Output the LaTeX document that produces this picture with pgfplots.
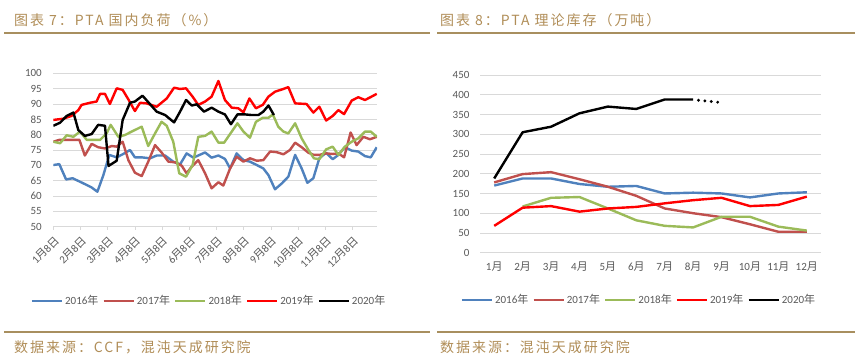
\documentclass[border=0pt]{standalone}
\usepackage{fontspec}
\setmainfont{Carlito}
\newfontfamily\cjk{Noto Sans CJK SC}
\newfontfamily\cjktitle[LetterSpace=14]{Noto Sans CJK SC}
\usepackage{pgfplots}
\pgfplotsset{compat=1.18}
\definecolor{c16}{HTML}{4F81BD}
\definecolor{c17}{HTML}{C0504D}
\definecolor{c18}{HTML}{9BBB59}
\definecolor{c19}{HTML}{FF0000}
\definecolor{c20}{HTML}{000000}
\definecolor{gridc}{HTML}{D9D9D9}
\definecolor{tickc}{HTML}{595959}
\definecolor{gold}{HTML}{B08D57}
\definecolor{goldline}{HTML}{A88F5F}
\pgfplotsset{
  mybase/.style={
    scale only axis,
    axis line style={draw=none},
    ymajorgrids, grid style={gridc, line width=0.8pt},
    tick label style={font=\fontsize{11}{12}\selectfont, text=tickc},
    /pgf/number format/assume math mode=true,
    ytick style={draw=none},
    legend style={draw=none, fill=none, font=\fontsize{11}{12}\selectfont, text=tickc,
      legend columns=5, /tikz/every even column/.append style={column sep=2pt}, inner sep=0pt},
    legend image code/.code={\draw[#1] (0pt,0pt) -- (30pt,0pt);},
    every axis plot/.append style={line width=2.4pt, line join=round},
  }
}
\begin{document}
\begin{tikzpicture}
\path[use as bounding box] (0,0) rectangle (859pt,362pt);
% headers
\node[anchor=base west, font=\cjktitle\fontsize{14}{16}\selectfont, text=gold, inner sep=0pt] at (14pt,336pt) {图表 7：PTA 国内负荷（\%）};
\node[anchor=base west, font=\cjktitle\fontsize{14}{16}\selectfont, text=gold, inner sep=0pt] at (440pt,336pt) {图表 8：PTA 理论库存（万吨）};
\draw[goldline, line width=1.2pt] (4pt,329pt) -- (430pt,329pt);
\draw[goldline, line width=1.2pt] (437pt,329pt) -- (855pt,329pt);
\draw[goldline, line width=1.2pt] (4pt,30pt) -- (430pt,30pt);
\draw[goldline, line width=1.2pt] (437pt,30pt) -- (855pt,30pt);
\node[anchor=base west, font=\cjktitle\fontsize{14}{16}\selectfont, text=gold, inner sep=0pt] at (14pt,10pt) {数据来源：CCF，混沌天成研究院};
\node[anchor=base west, font=\cjktitle\fontsize{14}{16}\selectfont, text=gold, inner sep=0pt] at (440pt,10pt) {数据来源：混沌天成研究院};

% left chart
\begin{axis}[mybase, at={(53.3pt,135.3pt)}, anchor=south west,
  width=323.7pt, height=153.4pt,
  xmin=0, xmax=11.9, ymin=50, ymax=100,
  ytick={50,55,...,100},
  yticklabel style={xshift=-5pt},
  xtick={0,...,11},
  xticklabels={1{\cjk 月}8{\cjk 日},2{\cjk 月}8{\cjk 日},3{\cjk 月}8{\cjk 日},4{\cjk 月}8{\cjk 日},5{\cjk 月}8{\cjk 日},6{\cjk 月}8{\cjk 日},7{\cjk 月}8{\cjk 日},8{\cjk 月}8{\cjk 日},9{\cjk 月}8{\cjk 日},10{\cjk 月}8{\cjk 日},11{\cjk 月}8{\cjk 日},12{\cjk 月}8{\cjk 日}},
  xticklabel style={rotate=45, anchor=east, yshift=-9pt},
  xtick pos=bottom, tick align=outside, major tick length=3pt,
  xtick style={draw=gridc, line width=0.8pt},
  legend style={at={(0.481,-0.484)}, anchor=center}]
\addplot[c16] coordinates {(0,70.1)(0.22,70.4)(0.47,65.4)(0.71,65.8)(1.23,63.6)(1.41,62.8)(1.62,61.4)(1.84,66.8)(2.06,73.4)(2.33,72.6)(2.57,73.7)(2.82,75.0)(3.00,72.6)(3.25,72.6)(3.56,72.3)(3.80,73.2)(4.11,73.2)(4.41,71.2)(4.66,70.3)(4.90,73.9)(5.15,72.5)(5.58,74.2)(5.82,72.5)(6.07,73.2)(6.31,72.1)(6.50,69.0)(6.74,73.9)(6.99,71.7)(7.23,71.2)(7.48,70.1)(7.72,69.0)(7.91,66.8)(8.15,62.2)(8.40,64.1)(8.64,66.3)(8.89,73.4)(9.13,69.0)(9.34,64.3)(9.56,65.8)(9.78,72.3)(10.03,74.1)(10.27,72.0)(10.48,73.4)(10.72,75.9)(10.97,74.8)(11.21,74.5)(11.46,73.0)(11.67,72.6)(11.89,75.9)};
\addlegendentry{2016{\cjk 年}}
\addplot[c17] coordinates {(0,77.7)(0.22,78.3)(0.49,78.3)(0.74,78.3)(0.96,78.3)(1.16,73.2)(1.41,77.0)(1.65,75.9)(1.90,75.5)(2.15,76.3)(2.33,76.1)(2.55,77.7)(2.76,71.7)(3.00,67.6)(3.25,66.5)(3.49,71.2)(3.74,76.6)(3.98,74.2)(4.23,71.2)(4.47,71.0)(4.72,69.9)(4.90,67.4)(5.09,69.6)(5.33,71.7)(5.58,67.4)(5.82,62.5)(6.07,64.5)(6.25,63.4)(6.50,69.0)(6.74,72.8)(6.99,71.2)(7.23,72.3)(7.48,71.5)(7.72,71.7)(7.97,74.5)(8.21,74.3)(8.46,73.6)(8.70,75.0)(8.89,77.4)(9.13,75.9)(9.38,74.1)(9.58,73.4)(9.78,73.4)(10.03,73.9)(10.27,73.7)(10.48,73.9)(10.69,72.6)(10.93,80.7)(11.15,76.6)(11.40,79.3)(11.64,78.5)(11.89,79.3)};
\addlegendentry{2017{\cjk 年}}
\addplot[c18] coordinates {(0,77.7)(0.25,77.2)(0.49,79.8)(0.74,79.3)(0.98,81.0)(1.23,78.3)(1.47,78.3)(1.72,78.3)(1.96,80.4)(2.11,83.2)(2.39,79.3)(2.64,79.9)(2.88,81.0)(3.25,82.6)(3.49,76.3)(3.74,80.4)(3.98,84.2)(4.17,82.9)(4.41,77.7)(4.63,67.4)(4.88,66.3)(5.12,70.1)(5.33,79.3)(5.58,79.6)(5.82,81.0)(6.07,77.4)(6.28,77.4)(6.56,81.0)(6.77,83.7)(6.99,81.0)(7.23,79.0)(7.45,84.2)(7.70,85.5)(7.91,85.5)(8.07,86.6)(8.27,82.6)(8.46,81.0)(8.64,80.4)(8.89,83.7)(9.13,78.8)(9.38,75.0)(9.58,72.3)(9.78,72.0)(10.03,75.2)(10.27,76.1)(10.48,73.4)(10.72,76.1)(10.97,77.7)(11.21,78.8)(11.46,81.0)(11.67,81.0)(11.89,79.3)};
\addlegendentry{2018{\cjk 年}}
\addplot[c19] coordinates {(0,84.8)(0.37,85.2)(0.67,86.1)(0.92,88.0)(1.04,89.7)(1.35,90.4)(1.59,90.8)(1.72,93.3)(1.90,93.3)(2.08,90.0)(2.33,95.1)(2.55,94.6)(2.76,91.5)(3.00,87.7)(3.19,90.4)(3.43,90.2)(3.80,89.1)(4.17,91.8)(4.44,95.3)(4.66,94.9)(4.88,95.1)(5.12,92.4)(5.33,89.7)(5.58,90.8)(5.82,92.4)(6.07,97.5)(6.31,91.3)(6.56,88.8)(6.80,88.6)(6.99,87.3)(7.21,91.8)(7.45,88.6)(7.70,89.7)(7.91,92.4)(8.15,94.0)(8.46,94.9)(8.64,95.5)(8.89,90.2)(9.31,90.0)(9.56,87.2)(9.78,89.1)(10.03,84.6)(10.27,86.1)(10.48,88.0)(10.69,86.7)(10.97,91.1)(11.21,92.2)(11.46,91.3)(11.70,92.4)(11.89,93.3)};
\addlegendentry{2019{\cjk 年}}
\addplot[c20] coordinates {(0,82.9)(0.25,83.9)(0.49,86.1)(0.74,87.2)(0.92,81.5)(1.16,79.6)(1.41,80.2)(1.65,83.2)(1.90,82.9)(2.03,69.8)(2.33,71.5)(2.55,84.8)(2.82,90.4)(3.00,90.8)(3.28,92.7)(3.56,89.9)(3.80,87.5)(4.11,86.4)(4.44,84.0)(4.66,87.5)(4.88,91.3)(5.09,89.5)(5.27,89.9)(5.54,87.5)(5.82,88.8)(6.07,87.5)(6.31,86.6)(6.53,83.4)(6.77,86.6)(7.05,86.6)(7.29,86.4)(7.54,86.4)(7.72,87.5)(7.91,89.5)(8.11,86.4)};
\addlegendentry{2020{\cjk 年}}
\end{axis}

% right chart
\begin{axis}[mybase, at={(480pt,109.3pt)}, anchor=south west,
  width=341pt, height=177.7pt,
  xmin=0.5, xmax=12.5, ymin=0, ymax=450,
  ytick={0,50,...,450},
  yticklabel style={xshift=-7pt},
  xtick={1,...,12},
  xticklabels={1{\cjk 月},2{\cjk 月},3{\cjk 月},4{\cjk 月},5{\cjk 月},6{\cjk 月},7{\cjk 月},8{\cjk 月},9{\cjk 月},10{\cjk 月},11{\cjk 月},12{\cjk 月}},
  xticklabel style={yshift=-6pt},
  xtick style={draw=none},
  legend style={at={(0.466,-0.266)}, anchor=center}]
\addplot[c16] coordinates {(1,170)(2,188)(3,188)(4,174)(5,167)(6,169)(7,150)(8,152)(9,150)(10,140)(11,150)(12,153)};
\addlegendentry{2016{\cjk 年}}
\addplot[c17] coordinates {(1,178)(2,199)(3,204)(4,186)(5,167)(6,144)(7,112)(8,100)(9,90)(10,72)(11,53)(12,53)};
\addlegendentry{2017{\cjk 年}}
\addplot[c18] coordinates {(2,117)(3,139)(4,141)(5,112)(6,82)(7,68)(8,64)(9,91)(10,91)(11,66)(12,56)};
\addlegendentry{2018{\cjk 年}}
\addplot[c19] coordinates {(1,68)(2,114)(3,118)(4,104)(5,112)(6,116)(7,125)(8,133)(9,139)(10,118)(11,121)(12,142)};
\addlegendentry{2019{\cjk 年}}
\addplot[c20] coordinates {(1,188)(2,305)(3,319)(4,353)(5,370)(6,364)(7,388)(8,388)};
\addlegendentry{2020{\cjk 年}}
\addplot[c20, forget plot, line width=3.2pt, line cap=round, dash pattern=on 0pt off 6.4pt] coordinates {(8.19,386)(8.87,381)};
\end{axis}
\end{tikzpicture}
\end{document}
